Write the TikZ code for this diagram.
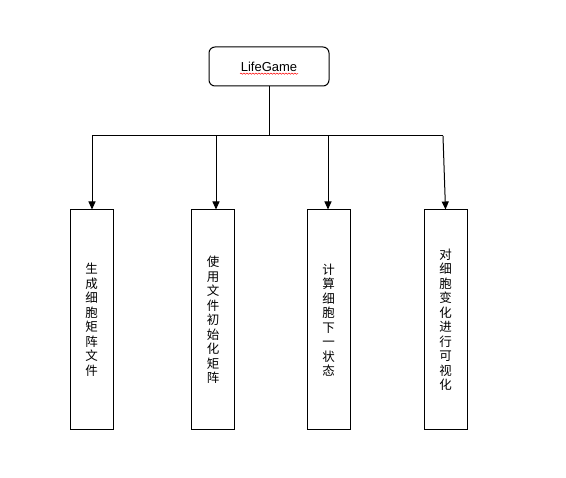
\documentclass[tikz,border=0pt]{standalone}
\usepackage{fontspec}
\setmainfont{Liberation Sans}
\newfontfamily\cjk{Noto Sans CJK SC}
\usetikzlibrary{arrows.meta,decorations.pathmorphing}

\begin{document}
\begin{tikzpicture}[x=1pt,y=-1pt,
    stepbox/.style={draw,line width=1pt,minimum width=43pt,minimum height=220pt,
      inner sep=0pt,align=center,font=\cjk\fontsize{12.5}{14.5}\selectfont},
    link/.style={line width=1pt,-{Triangle[length=8pt,width=7pt]}}]
            \useasboundingbox (0,0) rectangle (566,478);

            \node[draw,rounded corners=6pt,line width=1pt,minimum width=120pt,
              minimum height=39pt,font=\fontsize{13}{15}\selectfont] (game) at (269,66.5) {LifeGame};
            \draw[red,line width=0.5pt,decorate,decoration={snake,amplitude=0.6pt,segment length=3pt}]
              ([xshift=-29pt,yshift=-2.5pt]game.base) -- ([xshift=29pt,yshift=-2.5pt]game.base);

            \node[stepbox] (gen)  at (91.5,320)  {生\\成\\细\\胞\\矩\\阵\\文\\件};
            \node[stepbox] (init) at (213,320)   {使\\用\\文\\件\\初\\始\\化\\矩\\阵};
            \node[stepbox] (next) at (328.5,320) {计\\算\\细\\胞\\下\\一\\状\\态};
            \node[stepbox] (show) at (445.5,320) {对\\细\\胞\\变\\化\\进\\行\\可\\视\\化};

            \coordinate (hub) at (269,136);
            \coordinate (b1) at (92,136);
            \coordinate (b2) at (216,136);
            \coordinate (b3) at (328,136);
            \coordinate (b4) at (443,136);

            \draw[line width=1pt] (game.south) -- (hub);
            \draw[line width=1pt] (b1) -- (b4);
            \draw[link] (b1) -- (b1 |- gen.north);
            \draw[link] (b2) -- (b2 |- init.north);
            \draw[link] (b3) -- (b3 |- next.north);
            \draw[link] (b4) -- (show.north);
        \end{tikzpicture}
\end{document}
